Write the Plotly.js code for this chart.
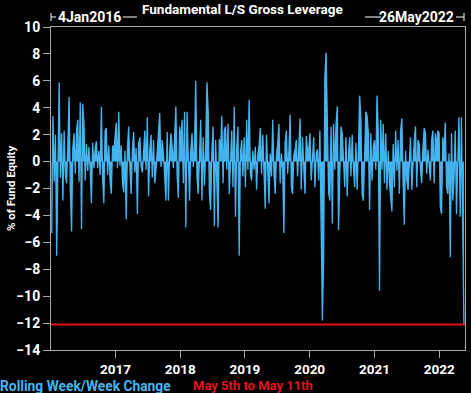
<!DOCTYPE html>
<html>
<head>
<meta charset="utf-8">
<script src="https://cdn.plot.ly/plotly-3.0.1.min.js"></script>
<style>html,body{margin:0;padding:0;background:#000;}#chart{width:471px;height:393px;}</style>
</head>
<body>
<div id="chart"></div>
<script>
// Weekly rolling week/week change, % of fund equity
var firstWeek = '2016-01-08';
var chg2016 = [-5.3,3.4,-1.5,2.0,-7.0,1.5,5.9,-1.2,2.1,-2.9,2.3,-1.0,-1.6,1.2,4.8,-2.1,-5.2,1.0,2.1,-0.9,2.3,3.1,-1.5,4.4,-5.0,4.3,2.8,-1.4,1.3,-0.7,1.1,-0.6,-3.1,1.4,-0.5,1.0,1.5,-0.5,0.8,-1.0,4.1,-1.2,-3.1,2.3,2.5,-1.0,1.2,-1.4,-2.4,1.2,0.7,1.8];
var chg2017 = [2.9,-0.5,3.7,-0.3,1.2,-1.6,-2.3,0.8,-4.3,1.0,2.6,-0.5,-2.4,0.9,2.2,-0.8,1.0,-3.9,1.3,1.8,-0.4,-0.8,1.1,2.3,-0.6,3.3,-2.6,0.9,2.0,-1.2,1.6,-1.6,-0.6,1.0,2.6,3.6,-0.4,1.6,0.6,-1.0,-2.9,2.2,-2.9,0.8,2.1,1.1,-0.5,1.9,4.1,-1.0,-2.7,2.6];
var chg2018 = [1.5,3.1,-1.6,3.7,-4.9,3.7,1.0,-2.9,0.8,2.1,-0.4,1.2,6.0,-1.2,-2.4,1.0,3.1,-2.9,1.8,-1.8,1.0,5.9,3.8,-2.4,-3.6,0.8,2.6,-4.8,1.6,-1.6,-4.9,1.7,0.6,3.4,-1.6,2.3,2.6,-0.6,2.8,-2.4,0.8,2.3,-1.9,4.1,-4.1,1.0,2.6,-7.0,0.6,1.6,-1.1,1.8];
var chg2019 = [-1.9,3.1,-0.6,4.6,-0.9,-1.4,0.8,-0.6,1.1,-2.1,0.5,1.2,2.5,-0.9,2.0,-0.5,-3.5,2.0,-1.1,-3.1,0.6,-1.1,3.1,-0.9,-2.4,0.5,1.3,2.8,-1.6,0.6,-0.6,-5.3,1.4,2.3,-0.9,0.7,3.5,-1.9,-2.4,0.5,0.9,1.6,-1.1,0.6,3.2,-2.1,1.8,-0.4,-2.4,1.9,0.9,0.8];
var chg2020 = [2.1,-1.4,0.8,1.8,-1.9,0.6,0.9,-1.4,2.3,-4.2,-11.8,-7.3,6.3,8.1,3.8,-2.3,-2.9,2.6,-4.6,2.8,-0.6,2.8,4.1,-5.1,-1.1,2.6,2.1,-0.7,-1.9,1.8,-2.6,0.6,1.8,-1.1,2.0,-0.5,-1.9,1.4,-2.1,0.8,4.9,3.3,-2.4,-2.9,1.0,3.7,3.4,2.1,-3.6,2.1,-1.4,1.1];
var chg2021 = [1.6,-0.6,4.9,2.3,-9.6,3.1,-0.6,2.8,-1.6,2.1,-2.1,0.8,-1.6,-2.9,-3.7,1.3,-1.9,2.3,-0.7,1.6,-2.4,2.3,3.2,-1.6,-4.7,0.8,-1.4,-2.1,0.6,1.8,-2.1,0.5,1.6,2.6,-1.9,1.6,1.3,-0.6,-1.6,1.0,2.5,2.1,-0.9,0.9,-0.5,-1.4,1.6,2.3,-1.6,2.1,1.1,2.3];
var chg2022 = [2.1,-3.4,-3.9,1.8,0.8,2.9,-1.9,-2.4,0.6,-7.1,2.1,-2.9,-1.4,2.3,-3.9,1.0,3.3,-4.1,3.3,-4.8,-12.1];
var latestLevel = -12.1; // May 5th to May 11th
var axisStart = '2016-01-04', axisEnd = '2022-05-26';
var yearTicks = ['2017-01-01','2018-01-01','2019-01-01','2020-01-01','2021-01-01','2022-01-01'];
var yearLabels = ['2017','2018','2019','2020','2021','2022'];
var yTicks = [-14,-12,-10,-8,-6,-4,-2,0,2,4,6,8,10];

var values = [].concat(chg2016, chg2017, chg2018, chg2019, chg2020, chg2021, chg2022);
var dates = [];
var d0 = new Date(firstWeek + 'T00:00:00Z');
for (var i = 0; i < values.length; i++) {
  var d = new Date(d0.getTime() + i * 7 * 86400000);
  dates.push(d.toISOString().slice(0, 10));
}

var FONT = 'Roboto, "Noto Sans", sans-serif';
var BLUE = '#45b4ee';
var RED = '#e3141b';
var FRAME = '#a8a8a8';

var traces = [
  {type: 'scatter', mode: 'lines', x: dates, y: values, fill: 'tozeroy', fillcolor: BLUE,
   line: {color: BLUE, width: 1.3}, hoverinfo: 'x+y'},
  {type: 'scatter', mode: 'lines', x: [axisStart, axisEnd], y: [latestLevel, latestLevel],
   line: {color: RED, width: 2}}
];

function px(x) { return (x - 51) / 414; }
function py(y) { return (350 - y) / 323; }

var hdr = {color: '#ffffff', width: 1};
var layout = {
  width: 471, height: 393,
  paper_bgcolor: '#000', plot_bgcolor: '#000',
  margin: {l: 51, r: 6, t: 27, b: 43},
  showlegend: false,
  font: {family: FONT, color: '#fff'},
  xaxis: {type: 'date', range: [axisStart, axisEnd], tickvals: yearTicks, ticktext: yearLabels,
    showgrid: false, zeroline: false, showline: true, linecolor: FRAME, linewidth: 1, mirror: true,
    ticks: 'outside', ticklen: 7, tickcolor: FRAME,
    tickfont: {family: FONT, size: 13.5, color: '#fff', weight: 'bold'}},
  yaxis: {range: [-14, 10], tickvals: yTicks, showgrid: false, zeroline: false,
    showline: true, linecolor: FRAME, linewidth: 1, mirror: true,
    ticks: 'outside', ticklen: 7, tickcolor: FRAME,
    tickfont: {family: FONT, size: 14, color: '#fff', weight: 'bold'}},
  shapes: [
    {type: 'line', xref: 'paper', yref: 'paper', x0: px(51), x1: px(51), y0: py(13), y1: py(21), line: hdr},
    {type: 'line', xref: 'paper', yref: 'paper', x0: px(51), x1: px(56), y0: py(17), y1: py(17), line: hdr},
    {type: 'line', xref: 'paper', yref: 'paper', x0: px(123), x1: px(137), y0: py(17), y1: py(17), line: hdr},
    {type: 'line', xref: 'paper', yref: 'paper', x0: px(365), x1: px(381), y0: py(17), y1: py(17), line: hdr},
    {type: 'line', xref: 'paper', yref: 'paper', x0: px(456), x1: px(464), y0: py(17), y1: py(17), line: hdr},
    {type: 'line', xref: 'paper', yref: 'paper', x0: px(464), x1: px(464), y0: py(13), y1: py(21), line: hdr}
  ],
  annotations: [
    {text: 'Fundamental L/S Gross Leverage', xref: 'paper', yref: 'paper', x: px(242), y: py(9),
     xanchor: 'center', yanchor: 'middle', showarrow: false,
     font: {family: FONT, size: 13.5, color: '#fff', weight: 'bold'}},
    {text: '4Jan2016', xref: 'paper', yref: 'paper', x: px(56), y: py(17),
     xanchor: 'left', yanchor: 'middle', showarrow: false,
     font: {family: FONT, size: 14, color: '#fff', weight: 'bold'}},
    {text: '26May2022', xref: 'paper', yref: 'paper', x: px(456), y: py(17),
     xanchor: 'right', yanchor: 'middle', showarrow: false,
     font: {family: FONT, size: 14, color: '#fff', weight: 'bold'}},
    {text: '% of Fund Equity', xref: 'paper', yref: 'paper', x: px(11), y: py(189),
     xanchor: 'center', yanchor: 'middle', textangle: -90, showarrow: false,
     font: {family: FONT, size: 11.5, color: '#fff', weight: 'bold'}},
    {text: 'Rolling Week/Week Change', xref: 'paper', yref: 'paper', x: px(-1), y: py(385.5),
     xanchor: 'left', yanchor: 'middle', showarrow: false, borderpad: 0,
     font: {family: FONT, size: 13.8, color: BLUE, weight: 'bold'}},
    {text: 'May 5th to May 11th', xref: 'paper', yref: 'paper', x: px(192), y: py(385.5),
     xanchor: 'left', yanchor: 'middle', showarrow: false, borderpad: 0,
     font: {family: FONT, size: 13, color: RED, weight: 'bold'}}
  ]
};

Plotly.newPlot('chart', traces, layout, {displayModeBar: false, staticPlot: true});
</script>
</body>
</html>
